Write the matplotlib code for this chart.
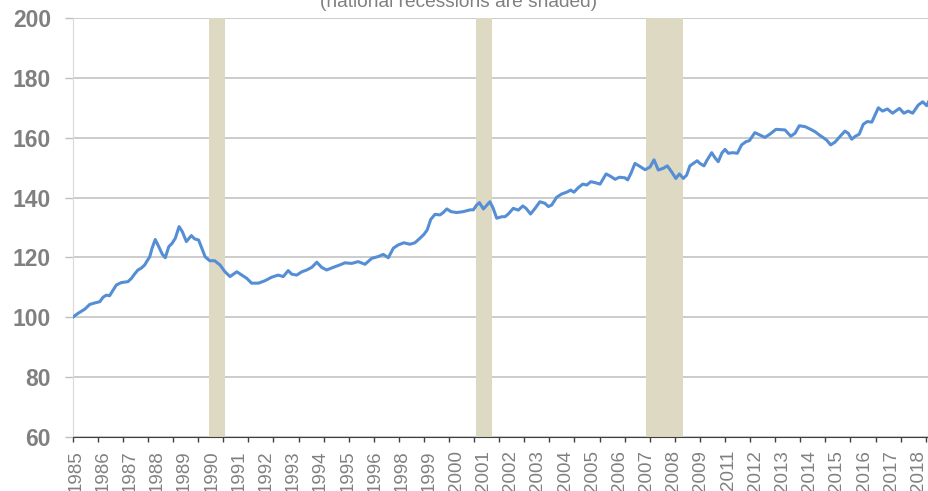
import matplotlib
matplotlib.use('Agg')
import matplotlib.pyplot as plt

plt.rcParams['font.family'] = ['Liberation Sans', 'DejaVu Sans']

# index values (decimal year, value)
years = [1985.00, 1985.21, 1985.48, 1985.68, 1985.88, 1986.08, 1986.21, 1986.34, 1986.47, 1986.61,
         1986.74, 1986.94, 1987.20, 1987.34, 1987.47, 1987.60, 1987.73, 1987.87, 1987.97, 1988.07,
         1988.16, 1988.29, 1988.43, 1988.57, 1988.69, 1988.83, 1988.96, 1989.09, 1989.24, 1989.37,
         1989.53, 1989.73, 1989.86, 1990.02, 1990.15, 1990.28, 1990.46, 1990.66, 1990.79, 1990.87,
         1991.07, 1991.27, 1991.54, 1991.74, 1991.94, 1992.13, 1992.40, 1992.66, 1992.93, 1993.19,
         1993.39, 1993.59, 1993.73, 1993.93, 1994.13, 1994.33, 1994.53, 1994.73, 1994.92, 1995.12,
         1995.39, 1995.65, 1995.85, 1996.12, 1996.38, 1996.65, 1996.92, 1997.18, 1997.38, 1997.58,
         1997.78, 1997.98, 1998.20, 1998.44, 1998.64, 1998.84, 1999.00, 1999.13, 1999.27, 1999.44,
         1999.64, 1999.77, 1999.91, 2000.08, 2000.30, 2000.57, 2000.84, 2000.97, 2001.10, 2001.21,
         2001.37, 2001.63, 2001.76, 2001.90, 2002.10, 2002.23, 2002.36, 2002.56, 2002.76, 2002.94,
         2003.07, 2003.25, 2003.43, 2003.62, 2003.82, 2003.96, 2004.09, 2004.29, 2004.49, 2004.69,
         2004.85, 2004.98, 2005.15, 2005.33, 2005.49, 2005.65, 2005.82, 2006.02, 2006.26, 2006.42,
         2006.62, 2006.79, 2007.01, 2007.12, 2007.25, 2007.41, 2007.61, 2007.81, 2008.01, 2008.17,
         2008.34, 2008.54, 2008.70, 2008.87, 2009.04, 2009.18, 2009.34, 2009.47, 2009.60, 2009.74,
         2009.89, 2010.00, 2010.16, 2010.29, 2010.47, 2010.60, 2010.73, 2010.87, 2011.00, 2011.13,
         2011.31, 2011.49, 2011.66, 2011.84, 2011.97, 2012.19, 2012.39, 2012.59, 2012.79, 2013.03,
         2013.19, 2013.39, 2013.62, 2013.79, 2013.96, 2014.19, 2014.39, 2014.59, 2014.76, 2014.92,
         2015.05, 2015.21, 2015.38, 2015.58, 2015.78, 2015.91, 2016.05, 2016.18, 2016.35, 2016.51,
         2016.67, 2016.85, 2016.98, 2017.11, 2017.28, 2017.47, 2017.68, 2017.95, 2018.13, 2018.30,
         2018.48, 2018.70, 2018.88, 2019.04, 2019.13]
values = [100.0, 101.3, 102.7, 104.3, 104.8, 105.2, 106.7, 107.4, 107.2, 109.1,
          110.8, 111.6, 111.9, 113.0, 114.5, 115.8, 116.4, 117.5, 118.9, 120.2,
          123.0, 126.0, 123.6, 121.1, 119.9, 123.6, 124.7, 126.4, 130.3, 128.6,
          125.3, 127.3, 126.2, 125.8, 123.0, 120.2, 118.9, 118.9, 118.0, 117.5,
          115.2, 113.6, 115.2, 114.1, 113.0, 111.4, 111.4, 112.2, 113.4, 114.1,
          113.6, 115.6, 114.4, 114.1, 115.2, 115.8, 116.7, 118.4, 116.7, 115.8,
          116.7, 117.5, 118.2, 118.0, 118.6, 117.7, 119.7, 120.3, 121.0, 119.9,
          123.1, 124.2, 124.9, 124.4, 124.9, 126.4, 127.7, 129.2, 132.7, 134.4,
          134.2, 135.0, 136.2, 135.3, 135.0, 135.3, 135.9, 135.9, 137.5, 138.3,
          136.2, 138.6, 136.4, 133.1, 133.6, 133.6, 134.5, 136.4, 135.8, 137.2,
          136.4, 134.5, 136.4, 138.6, 138.1, 137.0, 137.5, 140.1, 141.2, 141.8,
          142.5, 141.8, 143.3, 144.5, 144.2, 145.3, 145.0, 144.5, 147.9, 147.2,
          146.1, 146.8, 146.6, 145.9, 148.1, 151.4, 150.4, 149.3, 150.2, 152.6,
          149.2, 149.8, 150.6, 148.6, 146.4, 147.9, 146.4, 147.5, 150.6, 151.4,
          152.3, 151.4, 150.6, 152.6, 155.0, 153.3, 152.0, 154.8, 156.1, 154.8,
          155.0, 154.8, 157.6, 158.7, 159.0, 161.7, 160.9, 160.1, 161.2, 162.8,
          162.7, 162.6, 160.5, 161.5, 164.0, 163.7, 162.9, 162.0, 160.9, 160.0,
          159.2, 157.6, 158.5, 160.4, 162.2, 161.5, 159.5, 160.4, 161.2, 164.5,
          165.4, 165.2, 167.6, 170.0, 168.9, 169.6, 168.2, 169.8, 168.2, 168.9,
          168.2, 170.9, 172.0, 170.7, 172.3]

# national recessions (shaded)
rec_start = [1990.42, 2001.07, 2007.84]
rec_end = [1991.07, 2001.72, 2009.32]

# category labels every 13 months, as in the original
xlabels = ['1985', '1986', '1987', '1988', '1989', '1990', '1991', '1992', '1993', '1994',
           '1995', '1996', '1998', '1999', '2000', '2001', '2002', '2003', '2004', '2005',
           '2006', '2007', '2008', '2009', '2011', '2012', '2013', '2014', '2015', '2016',
           '2017', '2018']
yticks = [60, 80, 100, 120, 140, 160, 180, 200]

fig = plt.figure(figsize=(9.29, 4.91), dpi=100)
ax = fig.add_axes([72.7 / 929, 54 / 491, (929 - 72.7) / 929, 419 / 491])

for s, e in zip(rec_start, rec_end):
    ax.axvspan(s, e, color='#ddd9c3', lw=0, zorder=2)

ax.plot(years, values, color='#558ed5', lw=2.2, zorder=3, solid_joinstyle='round')

ax.set_xlim(1985, 2019.13)
ax.set_ylim(60, 200)

ax.set_yticks(yticks)
ax.set_yticklabels([str(v) for v in yticks], fontsize=16.5, fontweight='bold', color='#808080')
ax.tick_params(axis='y', length=7.7 * 0.72, width=1, color='#bfbfbf', pad=10)
ax.grid(axis='y', color='#bfbfbf', lw=1.1, zorder=1)
ax.set_axisbelow(True)

label_pos = [1985 + (13 * k + 1.5) / 12 for k in range(len(xlabels))]
ax.set_xticks(label_pos)
ax.set_xticklabels(xlabels, rotation=90, fontsize=13.5, color='#808080', va='top')
ax.tick_params(axis='x', which='major', length=0, pad=9.4)
ax.set_xticks(range(1985, 2020), minor=True)
ax.tick_params(axis='x', which='minor', length=3.6, width=1, color='#404040')

ax.spines['top'].set_visible(False)
ax.spines['right'].set_visible(False)
ax.spines['left'].set_color('#d9d9d9')
ax.spines['bottom'].set_color('#404040')
ax.spines['bottom'].set_zorder(4)

fig.text(459 / 929, 1 - 7 / 491, '(national recessions are shaded)', ha='center', va='baseline',
         fontsize=13.8, color='#808080')

plt.savefig('out.png', dpi=100)
